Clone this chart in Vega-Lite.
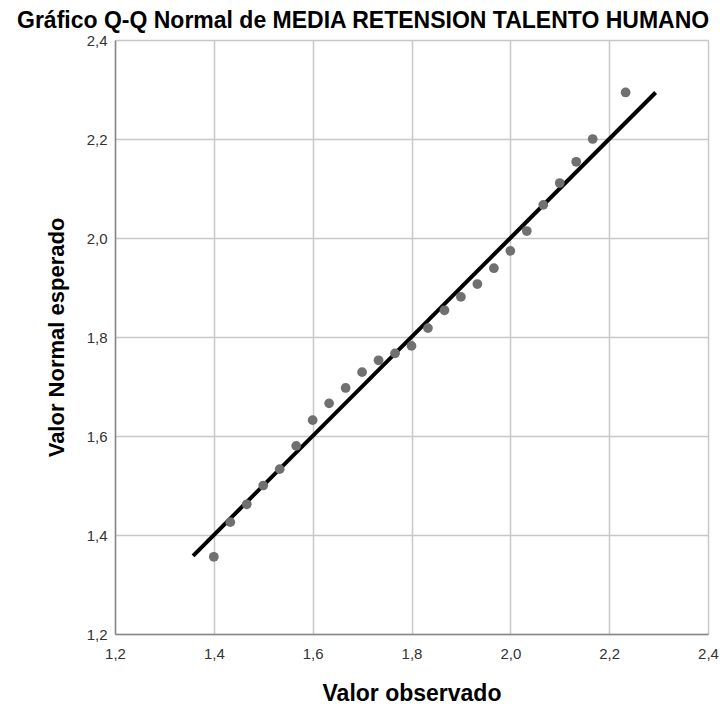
{
  "$schema": "https://vega.github.io/schema/vega-lite/v6.json",
  "autosize": {"type": "none"},
  "padding": {"left": 115, "top": 40, "right": 15, "bottom": 72},
  "width": 593,
  "height": 594,
  "background": "white",
  "config": {
    "font": "Liberation Sans",
    "view": {"stroke": null},
    "axis": {
      "grid": true,
      "gridColor": "#c8c8c8",
      "gridWidth": 1.5,
      "domainColor": "#888888",
      "domainWidth": 1.5,
      "ticks": false,
      "labelFont": "Liberation Sans",
      "labelFontSize": 15,
      "labelColor": "#333333",
      "titleFont": "Liberation Sans",
      "titleFontSize": 22,
      "titleFontWeight": "bold",
      "titleColor": "#000000"
    }
  },
  "title": {
    "text": "Gráfico Q-Q Normal de MEDIA RETENSION TALENTO HUMANO",
    "font": "Liberation Sans",
    "fontSize": 23,
    "fontWeight": "bold",
    "color": "#000000",
    "anchor": "start",
    "frame": "group",
    "dx": -98,
    "offset": 0
  },
  "datasets": {
    "pts": [
      {"obs": 1.4000, "esp": 1.356},
      {"obs": 1.4333, "esp": 1.426},
      {"obs": 1.4667, "esp": 1.462},
      {"obs": 1.5000, "esp": 1.500},
      {"obs": 1.5333, "esp": 1.533},
      {"obs": 1.5667, "esp": 1.580},
      {"obs": 1.6000, "esp": 1.632},
      {"obs": 1.6333, "esp": 1.666},
      {"obs": 1.6667, "esp": 1.697},
      {"obs": 1.7000, "esp": 1.729},
      {"obs": 1.7333, "esp": 1.753},
      {"obs": 1.7667, "esp": 1.767},
      {"obs": 1.8000, "esp": 1.782},
      {"obs": 1.8333, "esp": 1.818},
      {"obs": 1.8667, "esp": 1.854},
      {"obs": 1.9000, "esp": 1.881},
      {"obs": 1.9333, "esp": 1.907},
      {"obs": 1.9667, "esp": 1.939},
      {"obs": 2.0000, "esp": 1.974},
      {"obs": 2.0333, "esp": 2.014},
      {"obs": 2.0667, "esp": 2.067},
      {"obs": 2.1000, "esp": 2.111},
      {"obs": 2.1333, "esp": 2.154},
      {"obs": 2.1667, "esp": 2.200},
      {"obs": 2.2333, "esp": 2.294}
    ],
    "ref": [
      {"obs": 1.358, "esp": 1.358},
      {"obs": 2.294, "esp": 2.294}
    ]
  },
  "layer": [
    {
      "data": {"name": "ref"},
      "mark": {"type": "line", "color": "#000000", "strokeWidth": 4, "clip": true},
      "encoding": {
        "x": {"field": "obs", "type": "quantitative", "scale": {"domain": [1.2, 2.4], "nice": false, "zero": false},
          "axis": {"title": "Valor observado", "titleFontSize": 23, "values": [1.2, 1.4, 1.6, 1.8, 2.0, 2.2, 2.4], "labelExpr": "replace(format(datum.value, '.1f'), '.', ',')", "labelPadding": 12, "titlePadding": 21, "labelFlush": false}},
        "y": {"field": "esp", "type": "quantitative", "scale": {"domain": [1.2, 2.4], "nice": false, "zero": false},
          "axis": {"title": "Valor Normal esperado", "values": [1.2, 1.4, 1.6, 1.8, 2.0, 2.2, 2.4], "labelExpr": "replace(format(datum.value, '.1f'), '.', ',')", "labelPadding": 8, "titlePadding": 18, "labelFlush": false}}
      }
    },
    {
      "data": {"name": "pts"},
      "mark": {"type": "circle", "color": "#707070", "opacity": 1, "size": 95},
      "encoding": {
        "x": {"field": "obs", "type": "quantitative"},
        "y": {"field": "esp", "type": "quantitative"}
      }
    }
  ]
}
